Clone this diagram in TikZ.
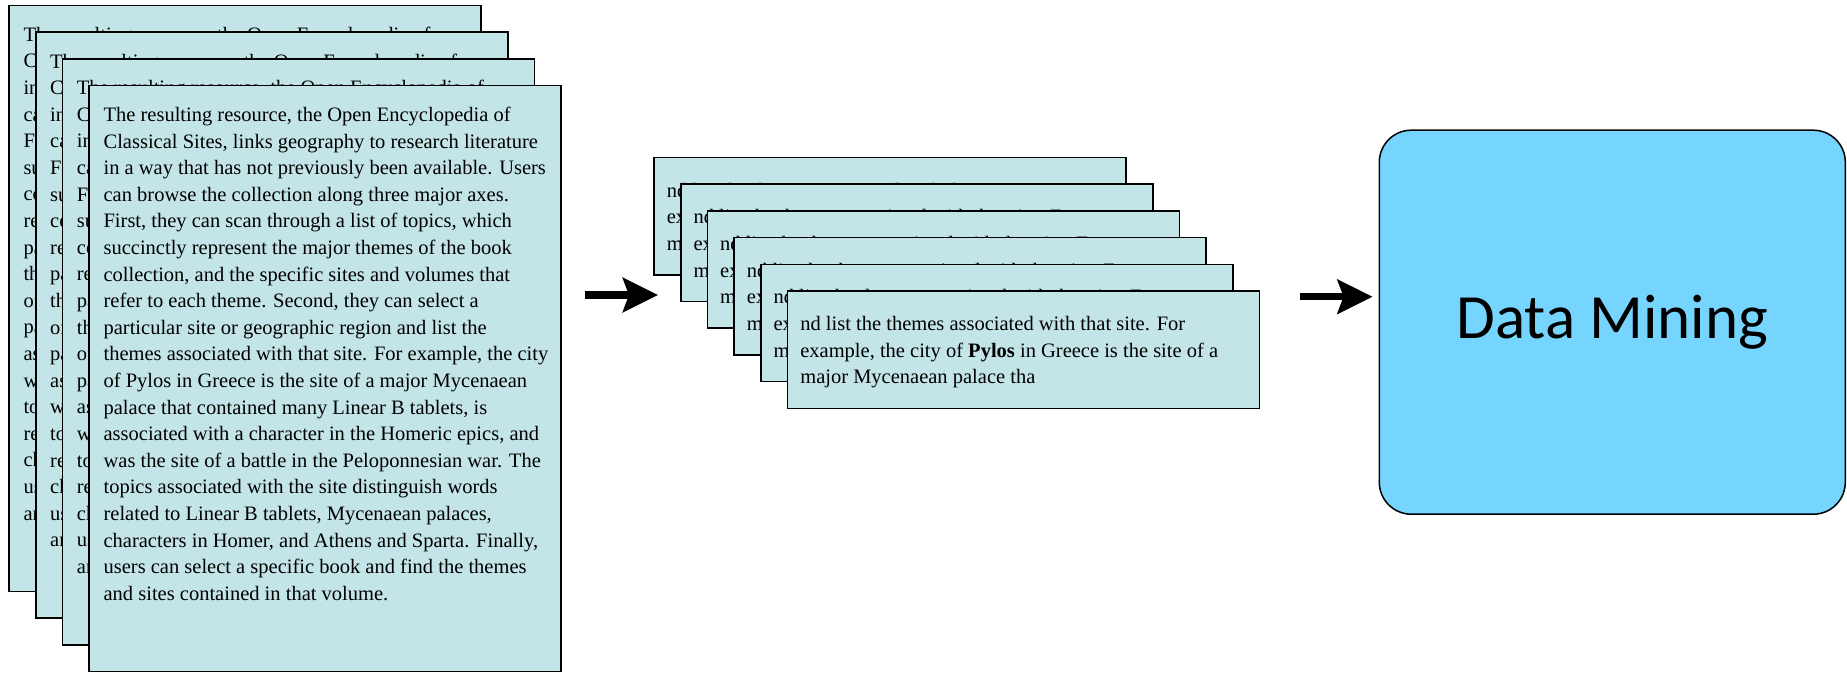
\documentclass[tikz,border=0pt]{standalone}
\usepackage{fontspec}
\setmainfont{Liberation Serif}
\newfontfamily\dmfont{Carlito}
\usetikzlibrary{arrows.meta}

\definecolor{pagefill}{RGB}{196,229,232}
\definecolor{dmfill}{RGB}{118,213,254}

\newcommand{\pagetext}{The resulting resource, the Open Encyclopedia of\\
Classical Sites, links geography to research literature\\
in a way that has not previously been available. Users\\
can browse the collection along three major axes.\\
First, they can scan through a list of topics, which\\
succinctly represent the major themes of the book\\
collection, and the specific sites and volumes that\\
refer to each theme. Second, they can select a\\
particular site or geographic region and list the\\
themes associated with that site. For example, the city\\
of Pylos in Greece is the site of a major Mycenaean\\
palace that contained many Linear B tablets, is\\
associated with a character in the Homeric epics, and\\
was the site of a battle in the Peloponnesian war. The\\
topics associated with the site distinguish words\\
related to Linear B tablets, Mycenaean palaces,\\
characters in Homer, and Athens and Sparta. Finally,\\
users can select a specific book and find the themes\\
and sites contained in that volume.}

\newcommand{\snippet}{nd list the themes associated with that site. For\\
example, the city of \textbf{Pylos} in Greece is the site of a\\
major Mycenaean palace tha}

\tikzset{
  page/.style={draw, line width=1.5pt, fill=pagefill, anchor=north west,
    inner sep=0pt, minimum width=472pt},
  pagetext/.style={anchor=north west, inner sep=0pt, align=left,
    font=\fontsize{20.5}{26.6}\selectfont},
  bigarrow/.style={line width=7.5pt, -{Stealth[length=35pt,width=34pt,inset=6pt]}}
}

\begin{document}
\begin{tikzpicture}[x=1pt,y=-1pt]
\useasboundingbox (0,0) rectangle (1847,672);

\foreach \i in {1,...,4} {
  \node[page, minimum height=586pt] (l\i) at ({8.3+26.7*(\i-1)},{4.7+26.7*(\i-1)}) {};
  \node[pagetext] (lt\i) at ([xshift=15pt,yshift=-22pt]l\i.north west) {\pagetext};
}

\foreach \i in {1,...,6} {
  \node[page, minimum height=117.3pt] (m\i) at ({653.3+26.7*(\i-1)},{156.7+26.7*(\i-1)}) {};
  \node[pagetext] (mt\i) at ([xshift=13.3pt,yshift=-26pt]m\i.north west) {\snippet};
}

\node[draw, line width=1.5pt, fill=dmfill, rounded corners=32pt,
  minimum width=466pt, minimum height=384pt,
  font=\dmfont\fontsize{63}{70}\selectfont] (dm) at (1612.3,322.2) {Data Mining};

\path (l4.east |- 0,295) ++(23,0) coordinate (a1s);
\path (m2.west |- 0,295) ++(-22,0) coordinate (a1e);
\draw[bigarrow] (a1s) -- (a1e);
\path (m6.east |- 0,296.7) ++(40,0) coordinate (a2s);
\path (dm.west |- 0,296.7) ++(-6,0) coordinate (a2e);
\draw[bigarrow] (a2s) -- (a2e);
\end{tikzpicture}
\end{document}
